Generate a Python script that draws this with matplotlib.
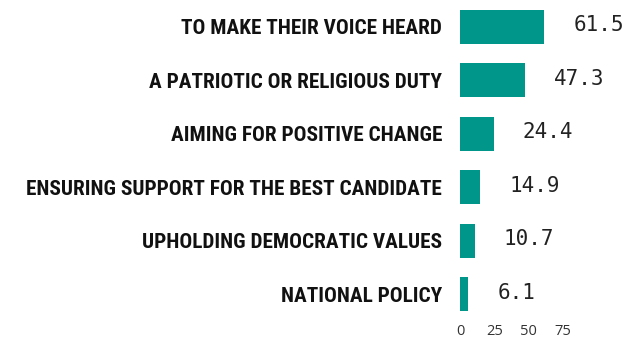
import matplotlib
matplotlib.use("Agg")
import matplotlib.pyplot as plt

categories = [
    "TO MAKE THEIR VOICE HEARD",
    "A PATRIOTIC OR RELIGIOUS DUTY",
    "AIMING FOR POSITIVE CHANGE",
    "ENSURING SUPPORT FOR THE BEST CANDIDATE",
    "UPHOLDING DEMOCRATIC VALUES",
    "NATIONAL POLICY",
]
values = [61.5, 47.3, 24.4, 14.9, 10.7, 6.1]
x_ticks = [0, 25, 50, 75]

BAR_COLOR = "#00968a"

fig = plt.figure(figsize=(6.3, 3.4), dpi=100)
ax = fig.add_axes([460 / 630, 19 / 340, 103 / 630, 321 / 340])

ypos = list(range(len(categories)))
ax.barh(ypos, values, height=0.64, color=BAR_COLOR, edgecolor="none")
ax.set_ylim(len(categories) - 0.5, -0.5)
ax.set_xlim(0, 75)

for y, v in zip(ypos, values):
    ax.annotate(f"{v:.1f}", xy=(v, y), xytext=(21, 1), textcoords="offset points",
                ha="left", va="center", family="DejaVu Sans Mono",
                fontsize=15, color="#222222", annotation_clip=False)

ax.set_yticks(ypos)
ax.set_yticklabels(categories, family=["Roboto Condensed", "DejaVu Sans"],
                   fontweight="bold", fontsize=15.3, color="#111111")
ax.set_xticks(x_ticks)
ax.set_xticklabels([str(t) for t in x_ticks], family="Open Sans",
                   fontsize=10.5, color="#333333")
ax.tick_params(axis="y", length=0, pad=13)
ax.tick_params(axis="x", length=0, pad=2)
for s in ax.spines.values():
    s.set_visible(False)

fig.savefig("out.png", dpi=100)
